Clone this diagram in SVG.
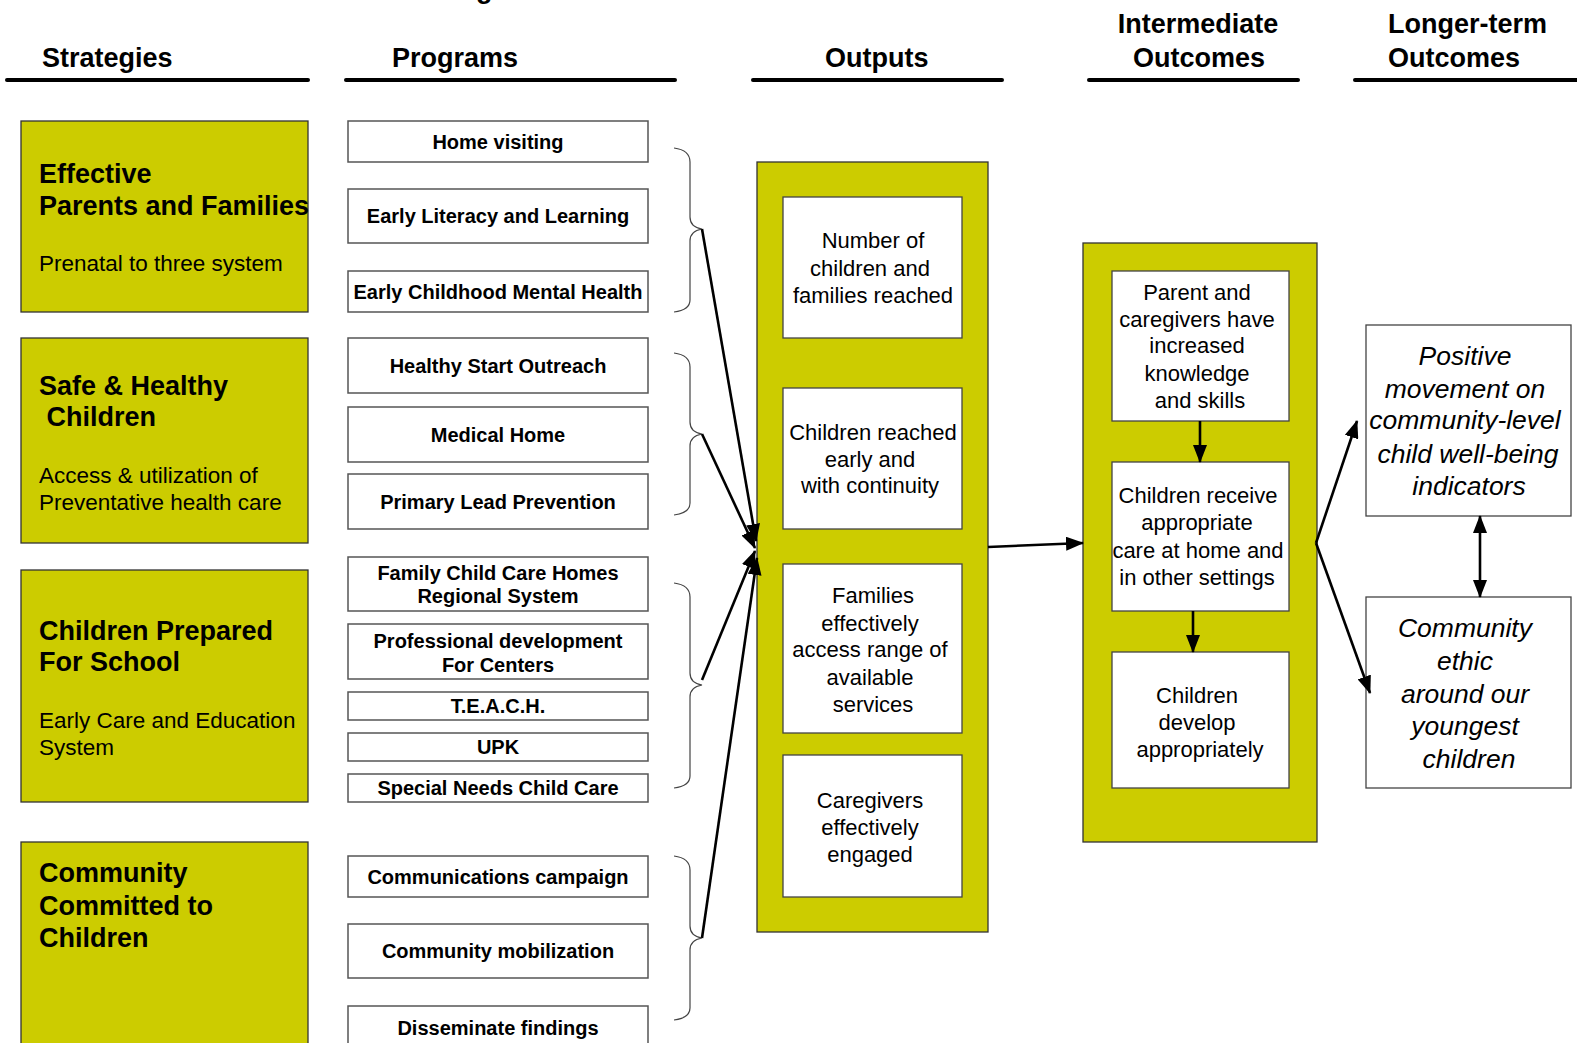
<svg xmlns="http://www.w3.org/2000/svg" width="1577" height="1043" viewBox="0 0 1577 1043">
<style>
.hdr{font-family:"Liberation Sans",Arial,sans-serif;font-weight:bold;font-size:27px;fill:#000}
.hl{stroke:#000;stroke-width:4;stroke-linecap:round}
.strat{fill:#CCCC00;stroke:#333;stroke-width:1.3}
.st{font-family:"Liberation Sans",Arial,sans-serif;font-weight:bold;font-size:27px;fill:#000}
.ss{font-family:"Liberation Sans",Arial,sans-serif;font-size:22.5px;fill:#000}
.prog{fill:#fff;stroke:#555;stroke-width:1.5}
.pt{font-family:"Liberation Sans",Arial,sans-serif;font-weight:bold;font-size:20px;fill:#000;text-anchor:middle}
.big{fill:#CCCC00;stroke:#333;stroke-width:1.3}
.ibox{fill:#fff;stroke:#444;stroke-width:1.3}
.ot{font-family:"Liberation Sans",Arial,sans-serif;font-size:22px;fill:#000;text-anchor:middle}
.lt{font-family:"Liberation Sans",Arial,sans-serif;font-style:italic;font-size:26.5px;fill:#000;text-anchor:middle}
.brace{fill:none;stroke:#444;stroke-width:1.2}
.conn{fill:none;stroke:#000;stroke-width:2.6}
</style>
<defs>
<marker id="ah" viewBox="0 0 18 14" refX="17" refY="7" markerWidth="18" markerHeight="14" markerUnits="userSpaceOnUse" orient="auto-start-reverse">
<path d="M0,0 L18,7 L0,14 z" fill="#000"/>
</marker>
</defs>

<text class="hdr" x="476" y="-2" font-size="36">g</text>

<g id="headers">
<text class="hdr" x="42" y="67">Strategies</text>
<line class="hl" x1="7" y1="80" x2="308" y2="80"/>
<text class="hdr" x="392" y="67">Programs</text>
<line class="hl" x1="346" y1="80" x2="675" y2="80"/>
<text class="hdr" x="825" y="67">Outputs</text>
<line class="hl" x1="753" y1="80" x2="1002" y2="80"/>
<text class="hdr" x="1198" y="33" text-anchor="middle">Intermediate</text>
<text class="hdr" x="1199" y="67" text-anchor="middle">Outcomes</text>
<line class="hl" x1="1089" y1="80" x2="1298" y2="80"/>
<text class="hdr" x="1388" y="33">Longer-term</text>
<text class="hdr" x="1388" y="67">Outcomes</text>
<line class="hl" x1="1355" y1="80" x2="1580" y2="80"/>
</g>

<g id="strategy-parents">
<rect class="strat" x="21" y="121" width="287" height="191"/>
<text class="st" x="39" y="183" font-size="25.5">Effective</text>
<text class="st" x="39" y="215" font-size="25.5">Parents and Families</text>
<text class="ss" x="39" y="271">Prenatal to three system</text>
</g>
<g id="strategy-safe">
<rect class="strat" x="21" y="338" width="287" height="205"/>
<text class="st" x="39" y="395">Safe &amp; Healthy</text>
<text class="st" x="39" y="426" xml:space="preserve"> Children</text>
<text class="ss" x="39" y="483">Access &amp; utilization of</text>
<text class="ss" x="39" y="510">Preventative health care</text>
</g>
<g id="strategy-school">
<rect class="strat" x="21" y="570" width="287" height="232"/>
<text class="st" x="39" y="640">Children Prepared</text>
<text class="st" x="39" y="671">For School</text>
<text class="ss" x="39" y="728">Early Care and Education</text>
<text class="ss" x="39" y="755">System</text>
</g>
<g id="strategy-community">
<rect class="strat" x="21" y="842" width="287" height="210"/>
<text class="st" x="39" y="882">Community</text>
<text class="st" x="39" y="915">Committed to</text>
<text class="st" x="39" y="947">Children</text>
</g>

<g id="prog-home"><rect class="prog" x="348" y="121" width="300" height="41"/><text class="pt" x="498" y="149">Home visiting</text></g>
<g id="prog-literacy"><rect class="prog" x="348" y="189" width="300" height="54"/><text class="pt" x="498" y="223">Early Literacy and Learning</text></g>
<g id="prog-mental"><rect class="prog" x="348" y="271" width="300" height="41"/><text class="pt" x="498" y="299" font-size="19.5">Early Childhood Mental Health</text></g>
<g id="prog-healthy"><rect class="prog" x="348" y="338" width="300" height="55"/><text class="pt" x="498" y="373">Healthy Start Outreach</text></g>
<g id="prog-medical"><rect class="prog" x="348" y="407" width="300" height="55"/><text class="pt" x="498" y="442">Medical Home</text></g>
<g id="prog-lead"><rect class="prog" x="348" y="474" width="300" height="55"/><text class="pt" x="498" y="509">Primary Lead Prevention</text></g>
<g id="prog-family"><rect class="prog" x="348" y="557" width="300" height="54"/><text class="pt" x="498" y="580">Family Child Care Homes</text><text class="pt" x="498" y="603">Regional System</text></g>
<g id="prog-profdev"><rect class="prog" x="348" y="624" width="300" height="55"/><text class="pt" x="498" y="648">Professional development</text><text class="pt" x="498" y="672">For Centers</text></g>
<g id="prog-teach"><rect class="prog" x="348" y="692" width="300" height="28"/><text class="pt" x="498" y="713">T.E.A.C.H.</text></g>
<g id="prog-upk"><rect class="prog" x="348" y="733" width="300" height="28"/><text class="pt" x="498" y="754">UPK</text></g>
<g id="prog-special"><rect class="prog" x="348" y="774" width="300" height="28"/><text class="pt" x="498" y="795">Special Needs Child Care</text></g>
<g id="prog-comms"><rect class="prog" x="348" y="856" width="300" height="41"/><text class="pt" x="498" y="884">Communications campaign</text></g>
<g id="prog-mobil"><rect class="prog" x="348" y="924" width="300" height="54"/><text class="pt" x="498" y="958">Community mobilization</text></g>
<g id="prog-dissem"><rect class="prog" x="348" y="1006" width="300" height="50"/><text class="pt" x="498" y="1035">Disseminate findings</text></g>

<g id="braces">
<path class="brace" d="M674,148 Q690,150 690,162 L690,217 Q690,227 702,229 Q690,231 690,241 L690,300 Q690,310 674,312"/>
<path class="brace" d="M674,353 Q690,355 690,367 L690,422 Q690,432 702,434 Q690,436 690,446 L690,503 Q690,513 674,515"/>
<path class="brace" d="M674,583 Q690,585 690,597 L690,673 Q690,683 702,685 Q690,687 690,697 L690,776 Q690,786 674,788"/>
<path class="brace" d="M674,856 Q690,858 690,870 L690,926 Q690,936 702,938 Q690,940 690,950 L690,1008 Q690,1018 674,1020"/>
</g>

<g id="outputs">
<rect class="big" x="757" y="162" width="231" height="770"/>
<g id="out-number"><rect class="ibox" x="783" y="197" width="179" height="141"/>
<text class="ot" x="873" y="248">Number of</text><text class="ot" x="870" y="276">children and</text><text class="ot" x="873" y="303">families reached</text></g>
<g id="out-early"><rect class="ibox" x="783" y="388" width="179" height="141"/>
<text class="ot" x="873" y="440">Children reached</text><text class="ot" x="870" y="467">early and</text><text class="ot" x="870" y="493">with continuity</text></g>
<g id="out-access"><rect class="ibox" x="783" y="564" width="179" height="169"/>
<text class="ot" x="873" y="603">Families</text><text class="ot" x="870" y="631">effectively</text><text class="ot" x="870" y="657">access range of</text><text class="ot" x="870" y="685">available</text><text class="ot" x="873" y="712">services</text></g>
<g id="out-caregivers"><rect class="ibox" x="783" y="755" width="179" height="142"/>
<text class="ot" x="870" y="808">Caregivers</text><text class="ot" x="870" y="835">effectively</text><text class="ot" x="870" y="862">engaged</text></g>
</g>

<g id="intermediate">
<rect class="big" x="1083" y="243" width="234" height="599"/>
<g id="int-parent"><rect class="ibox" x="1112" y="271" width="177" height="150"/>
<text class="ot" x="1197" y="300">Parent and</text><text class="ot" x="1197" y="327">caregivers have</text><text class="ot" x="1197" y="353">increased</text><text class="ot" x="1197" y="381">knowledge</text><text class="ot" x="1200" y="408">and skills</text></g>
<g id="int-care"><rect class="ibox" x="1112" y="462" width="177" height="149"/>
<text class="ot" x="1198" y="503">Children receive</text><text class="ot" x="1197" y="530">appropriate</text><text class="ot" x="1198" y="558">care at home and</text><text class="ot" x="1197" y="585">in other settings</text></g>
<g id="int-develop"><rect class="ibox" x="1112" y="652" width="177" height="136"/>
<text class="ot" x="1197" y="703">Children</text><text class="ot" x="1197" y="730">develop</text><text class="ot" x="1200" y="757">appropriately</text></g>
</g>

<g id="long-positive"><rect class="ibox" x="1366" y="325" width="205" height="191"/>
<text class="lt" x="1465" y="365">Positive</text><text class="lt" x="1465" y="398">movement on</text><text class="lt" x="1465" y="429">community-level</text><text class="lt" x="1468" y="463">child well-being</text><text class="lt" x="1469" y="495">indicators</text></g>
<g id="long-ethic"><rect class="ibox" x="1366" y="597" width="205" height="191"/>
<text class="lt" x="1465" y="637">Community</text><text class="lt" x="1465" y="670">ethic</text><text class="lt" x="1465" y="703">around our</text><text class="lt" x="1465" y="735">youngest</text><text class="lt" x="1469" y="768">children</text></g>

<g id="connectors">
<line class="conn" x1="702" y1="229" x2="756" y2="541" marker-end="url(#ah)"/>
<line class="conn" x1="702" y1="434" x2="755" y2="548" marker-end="url(#ah)"/>
<line class="conn" x1="702" y1="680" x2="755" y2="551" stroke-width="3.5" marker-end="url(#ah)"/>
<line class="conn" x1="702" y1="938" x2="757" y2="558" marker-end="url(#ah)"/>
<line class="conn" x1="988" y1="547" x2="1083" y2="543" stroke-width="3.5" marker-end="url(#ah)"/>
<line class="conn" x1="1200" y1="421" x2="1200" y2="462" stroke-width="4" marker-end="url(#ah)"/>
<line class="conn" x1="1193" y1="611" x2="1193" y2="652" stroke-width="3" marker-end="url(#ah)"/>
<line class="conn" x1="1316" y1="543" x2="1357" y2="421" stroke-width="3" marker-end="url(#ah)"/>
<line class="conn" x1="1316" y1="543" x2="1370" y2="693" stroke-width="3" marker-end="url(#ah)"/>
<line class="conn" x1="1480" y1="516" x2="1480" y2="597" stroke-width="3" marker-start="url(#ah)" marker-end="url(#ah)"/>
</g>
</svg>
